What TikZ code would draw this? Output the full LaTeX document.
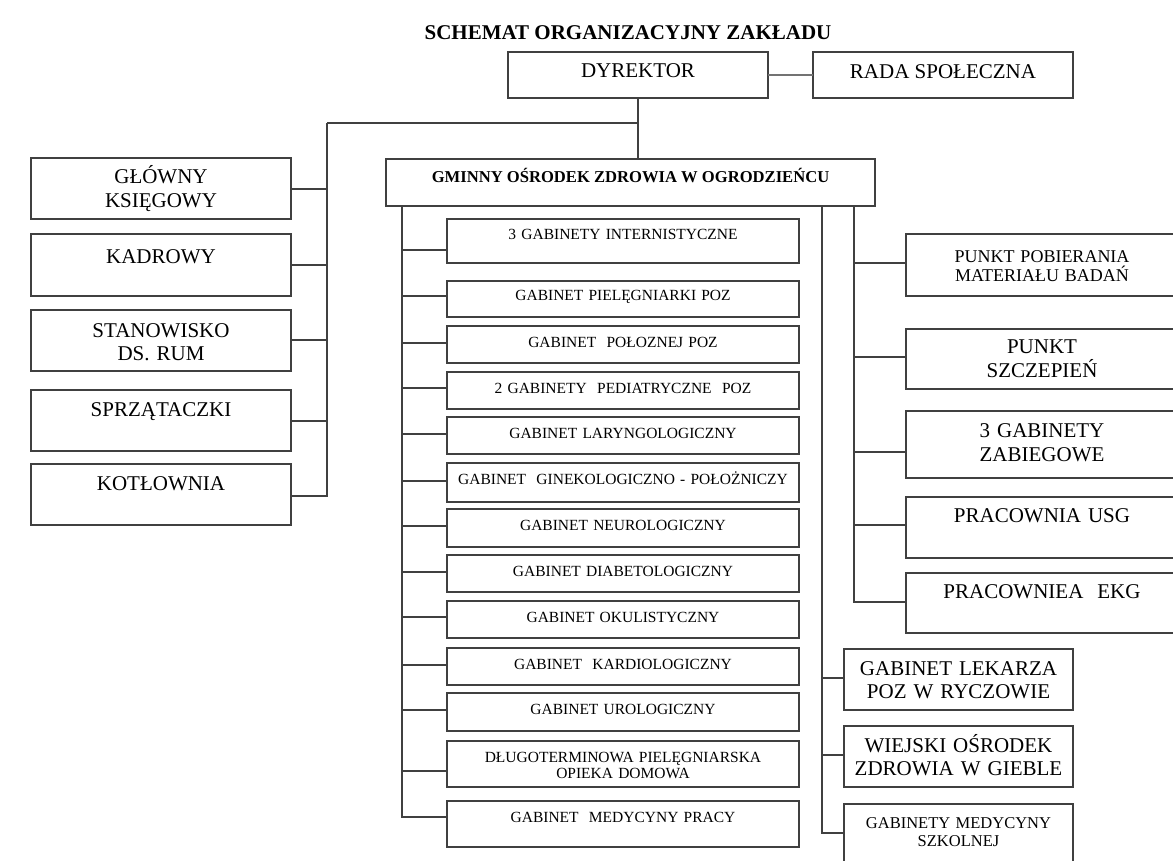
\documentclass[tikz,border=0pt]{standalone}
\usepackage{fontspec}
\setmainfont{Liberation Serif}
\usetikzlibrary{positioning}
\tikzset{
        box/.style={draw=black!75,line width=1.3pt,inner sep=0pt,outer sep=0pt,align=center},
        lbox/.style={box,text width=260pt,text height=26pt,text depth=#1pt,font=\fontsize{21}{24}\selectfont},
        mbox/.style={box,text width=352pt,text height=21pt,text depth=#1pt,font=\fontsize{15.5}{16}\selectfont},
        rbox/.style={box,text width=272pt,text height=25pt,text depth=#1pt,font=\fontsize{21}{24}\selectfont},
        pbox/.style={box,text width=229pt,text height=26pt,text depth=#1pt,font=\fontsize{21}{23}\selectfont},
        conn/.style={draw=black!75,line width=1.3pt},
        bus/.style={to path={|- (\tikztotarget)}}
    }

\begin{document}
\begin{tikzpicture}[x=1pt,y=-1pt]
                \useasboundingbox (0,0) rectangle (1173,861);
                \clip (0,0) rectangle (1173,861);
                \node[font=\bfseries\fontsize{21}{24}\selectfont,anchor=base] (title) at (628,40) {SCHEMAT ORGANIZACYJNY ZAKŁADU};
                \node[box,minimum width=260pt,text height=26pt,text depth=20pt,font=\fontsize{21}{24}\selectfont,anchor=north west] (dyr) at (508,52) {DYREKTOR};
                \node[box,minimum width=260pt,text height=27pt,text depth=19pt,font=\fontsize{21}{24}\selectfont] (rada) [right=45pt of dyr] {RADA SPOŁECZNA};
                \node[box,minimum width=489pt,text height=24pt,text depth=23pt,font=\bfseries\fontsize{16.6}{18}\selectfont,anchor=north west] (gm) at (386,159) {GMINNY OŚRODEK ZDROWIA W OGRODZIEŃCU};
                % left column
                \node[lbox=35,anchor=north west] (l1) at (31,158) {GŁÓWNY\\KSIĘGOWY};
                \node[lbox=33,text height=29pt] (l2) [below=15pt of l1] {KADROWY};
                \node[lbox=34,text height=27pt] (l3) [below=14pt of l2] {STANOWISKO\\DS. RUM};
                \node[lbox=35] (l4) [below=19pt of l3] {SPRZĄTACZKI};
                \node[lbox=35] (l5) [below=13pt of l4] {KOTŁOWNIA};
                % middle column
                \node[mbox=23,anchor=north west] (m1) at (447,219) {3 GABINETY INTERNISTYCZNE};
                \node[mbox=17,text height=19pt] (m2) [below=18pt of m1] {GABINET PIELĘGNIARKI POZ};
                \node[mbox=16] (m3) [below=9pt of m2] {GABINET~ POŁOZNEJ POZ};
                \node[mbox=16] (m4) [below=9pt of m3] {2 GABINETY~ PEDIATRYCZNE~ POZ};
                \node[mbox=16] (m5) [below=8pt of m4] {GABINET LARYNGOLOGICZNY};
                \node[mbox=18] (m6) [below=9pt of m5] {GABINET~ GINEKOLOGICZNO - POŁOŻNICZY};
                \node[mbox=17] (m7) [below=7pt of m6] {GABINET NEUROLOGICZNY};
                \node[mbox=16] (m8) [below=8pt of m7] {GABINET DIABETOLOGICZNY};
                \node[mbox=16] (m9) [below=9pt of m8] {GABINET OKULISTYCZNY};
                \node[mbox=16] (m10) [below=10pt of m9] {GABINET~ KARDIOLOGICZNY};
                \node[mbox=17] (m11) [below=8pt of m10] {GABINET UROLOGICZNY};
                \node[mbox=25] (m12) [below=10pt of m11] {DŁUGOTERMINOWA PIELĘGNIARSKA\\OPIEKA DOMOWA};
                \node[mbox=25] (m13) [below=14pt of m12] {GABINET~ MEDYCYNY PRACY};
                % right columns
                \node[rbox=34,text height=28pt,font=\fontsize{18}{19.5}\selectfont,anchor=north west] (r1) at (906,234) {PUNKT POBIERANIA\\MATERIAŁU BADAŃ};
                \node[rbox=36,text height=24pt] (r2) [below=33pt of r1] {PUNKT\\SZCZEPIEŃ};
                \node[rbox=41,text height=26pt] (r3) [below=22pt of r2] {3 GABINETY\\ZABIEGOWE};
                \node[rbox=36] (r4) [below=19pt of r3] {PRACOWNIA USG};
                \node[rbox=35] (r5) [below=15pt of r4] {PRACOWNIEA~ EKG};
                \node[pbox=35,anchor=north west] (p1) at (844,649) {GABINET LEKARZA\\POZ W RYCZOWIE};
                \node[pbox=35] (p2) [below=16pt of p1] {WIEJSKI OŚRODEK\\ZDROWIA W GIEBLE};
                \node[pbox=37,text height=24pt,font=\fontsize{16.5}{18}\selectfont] (p3) [below=17pt of p2] {GABINETY MEDYCYNY\\SZKOLNEJ};
                \coordinate (kbus) at (327,123);
                \coordinate (lbus) at ([xshift=16pt]gm.south west);
                \coordinate (pbus) at ([xshift=-53pt]gm.south east);
                \coordinate (rbus) at ([xshift=-21pt]gm.south east);
                \path[conn]
                    (dyr) edge [draw=black!55] (rada)
                    (dyr) edge (dyr |- gm.north)
                    (dyr |- kbus) edge (kbus)
                    (kbus) edge [bus] ([yshift=-0.5pt]l1.east)
                    (kbus) edge [bus] (l2.east)
                    (kbus) edge [bus] ([yshift=0.5pt]l3.east)
                    (kbus) edge [bus] ([yshift=-0.5pt]l4.east)
                    (kbus) edge [bus] ([yshift=-1.5pt]l5.east)
                    (lbus) edge [bus] ([yshift=-9pt]m1.west)
                    (lbus) edge [bus] ([yshift=3pt]m2.west)
                    (lbus) edge [bus] ([yshift=1.5pt]m3.west)
                    (lbus) edge [bus] ([yshift=2.5pt]m4.west)
                    (lbus) edge [bus] ([yshift=1.5pt]m5.west)
                    (lbus) edge [bus] ([yshift=1.5pt]m6.west)
                    (lbus) edge [bus] ([yshift=2pt]m7.west)
                    (lbus) edge [bus] ([yshift=1.5pt]m8.west)
                    (lbus) edge [bus] ([yshift=2.5pt]m9.west)
                    (lbus) edge [bus] ([yshift=1.5pt]m10.west)
                    (lbus) edge [bus] ([yshift=2pt]m11.west)
                    (lbus) edge [bus] ([yshift=-7pt]m12.west)
                    (lbus) edge [bus] ([yshift=7pt]m13.west)
                    (rbus) edge [bus] ([yshift=2pt]r1.west)
                    (rbus) edge [bus] ([yshift=2pt]r2.west)
                    (rbus) edge [bus] ([yshift=-7.5pt]r3.west)
                    (rbus) edge [bus] ([yshift=2.5pt]r4.west)
                    (rbus) edge [bus] ([yshift=1pt]r5.west)
                    (pbus) edge [bus] ([yshift=1.5pt]p1.west)
                    (pbus) edge [bus] ([yshift=1.5pt]p2.west)
                    (pbus) edge [bus] ([yshift=1.5pt]p3.west)
                ;
            \end{tikzpicture}
\end{document}
